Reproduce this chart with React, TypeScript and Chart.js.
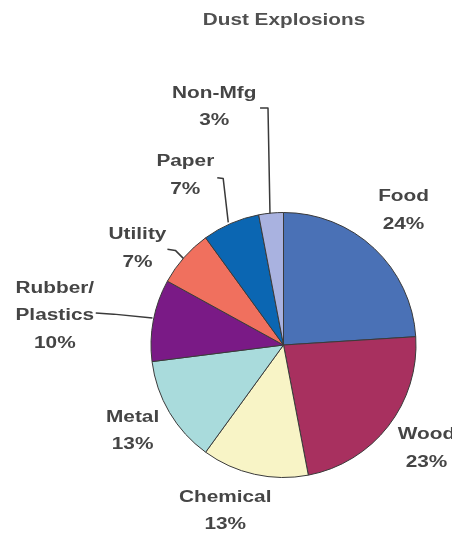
import React, { useEffect, useRef } from "react";
import { Chart, registerables } from "chart.js";

Chart.register(...registerables);

// ---- data ----
const chartTitle = "Dust Explosions";
const categories = ["Food", "Wood", "Chemical", "Metal", "Rubber/Plastics", "Utility", "Paper", "Non-Mfg"];
const shares = [24, 23, 13, 13, 10, 7, 7, 3];
const nameLines = [["Food"], ["Wood"], ["Chemical"], ["Metal"], ["Rubber/", "Plastics"], ["Utility"], ["Paper"], ["Non-Mfg"]];

// ---- style ----
const sliceColors = ["#4a71b6", "#a8305f", "#f8f4c6", "#a9dbdc", "#7a1a86", "#f0705e", "#0b66b2", "#a9b2e0"];
// label centres relative to pie centre, in radius units
const labelOffsets = [
  [0.906, -1.015],
  [1.079, 0.782],
  [-0.44, 1.252],
  [-1.139, 0.65],
  [-1.726, -0.22],
  [-1.102, -0.726],
  [-0.741, -1.278],
  [-0.523, -1.797],
];
// leader lines relative to pie centre, in radius units
const leaders: (number[][] | null)[] = [
  null,
  null,
  null,
  null,
  [[-1.417, -0.241], [-1.282, -0.233], [-0.989, -0.203]],
  [[-0.876, -0.722], [-0.816, -0.714], [-0.756, -0.654]],
  [[-0.5, -1.263], [-0.455, -1.256], [-0.417, -0.925]],
  [[-0.177, -1.789], [-0.117, -1.789], [-0.102, -0.992]],
];

const textColor = "#454545";
const labelFont = "bold 16px 'Liberation Sans', Arial, sans-serif";
const titleFont = "bold 17px 'Liberation Sans', Arial, sans-serif";
const labelStretch = 1.3;
const titleStretch = 1.22;
const lineGap = 27.5;

function drawStretched(ctx: CanvasRenderingContext2D, text: string, x: number, y: number, sx: number) {
  ctx.save();
  ctx.translate(x, y);
  ctx.scale(sx, 1);
  ctx.fillText(text, 0, 0);
  ctx.restore();
}

const labelPlugin = {
  id: "pieLabels",
  afterDraw(chart: any) {
    const ctx: CanvasRenderingContext2D = chart.ctx;
    const meta = chart.getDatasetMeta(0);
    const arc0 = meta.data[0];
    if (!arc0) return;
    const cx = arc0.x;
    const cy = arc0.y;
    const r = arc0.outerRadius;
    ctx.save();
    // title
    ctx.fillStyle = "#505050";
    ctx.font = titleFont;
    ctx.textAlign = "center";
    ctx.textBaseline = "middle";
    drawStretched(ctx, chartTitle, chart.width / 2 + 58, 20, titleStretch);

    // leader lines
    ctx.strokeStyle = "#3a3a3a";
    ctx.lineWidth = 1.5;
    ctx.lineJoin = "round";
    leaders.forEach((pts) => {
      if (!pts) return;
      ctx.beginPath();
      pts.forEach((p, i) => {
        const x = cx + p[0] * r;
        const y = cy + p[1] * r;
        if (i === 0) ctx.moveTo(x, y);
        else ctx.lineTo(x, y);
      });
      ctx.stroke();
    });

    // labels
    ctx.fillStyle = textColor;
    ctx.font = labelFont;
    categories.forEach((_, i) => {
      const lines = [...nameLines[i], `${shares[i]}%`];
      const x = cx + labelOffsets[i][0] * r;
      const yc = cy + labelOffsets[i][1] * r;
      const y0 = yc - ((lines.length - 1) * lineGap) / 2;
      lines.forEach((t, k) => drawStretched(ctx, t, x, y0 + k * lineGap, labelStretch));
    });
    ctx.restore();
  },
};

export default function App() {
  const ref = useRef<HTMLCanvasElement | null>(null);
  useEffect(() => {
    if (!ref.current) return;
    const chart = new Chart(ref.current, {
      type: "pie",
      data: {
        labels: categories,
        datasets: [
          {
            data: shares,
            backgroundColor: sliceColors,
            borderColor: "#3a3a3a",
            borderWidth: 1,
            hoverOffset: 0,
            offset: 0,
          },
        ],
      },
      options: {
        responsive: false,
        maintainAspectRatio: false,
        devicePixelRatio: 1,
        animation: false,
        layout: { padding: { left: 150, right: 35, top: 212, bottom: 68 } },
        plugins: {
          legend: { display: false },
          title: { display: false },
          tooltip: { enabled: false },
        },
      },
      plugins: [labelPlugin],
    });
    return () => chart.destroy();
  }, []);
  return (
    <div style={{ position: "fixed", left: 0, top: 0, width: 452, height: 546, background: "#fff" }}>
      <canvas ref={ref} width={452} height={546} style={{ width: 452, height: 546 }} />
    </div>
  );
}
